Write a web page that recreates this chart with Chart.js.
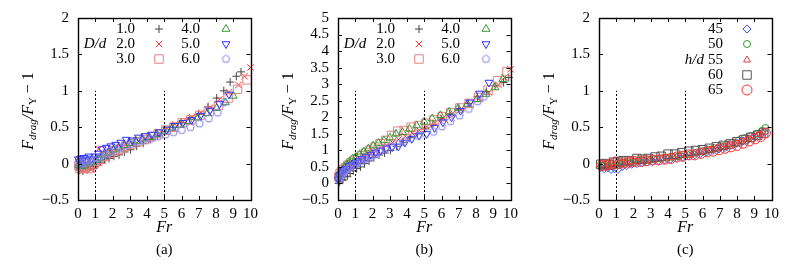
<!DOCTYPE html>
<html><head><meta charset="utf-8">
<script src="https://cdn.jsdelivr.net/npm/chart.js@4.4.0/dist/chart.umd.min.js"></script>
<style>
html,body{margin:0;padding:0;background:#fff;}
#wrap{position:relative;width:789px;height:265px;overflow:hidden;background:#fff;}
canvas{position:absolute;top:0;}
</style></head><body>
<div id="wrap">
<canvas id="ca" width="263" height="265" style="left:0px"></canvas>
<canvas id="cb" width="263" height="265" style="left:260px"></canvas>
<canvas id="cc" width="263" height="265" style="left:521px"></canvas>
</div>
<script>
// ---------- data ----------
const xTicks = [0,1,2,3,4,5,6,7,8,9,10];
const labelsA = ['1.0','2.0','3.0','4.0','5.0','6.0'];
const labelsC = ['45','50','55','60','65'];

// panel (a)
const aX1 = [0.04,0.1,0.18,0.28,0.4,0.54,0.7,0.88,1.08,1.3,1.54,1.8,2.08,2.38,2.7,3.04,3.4,3.78,4.18,4.6,5.04,5.5,5.98,6.48,7.0,7.54,8.04,8.45,8.82,9.18,9.45];
const aY1 = [-0.06,-0.09,-0.05,-0.1,-0.06,-0.08,-0.04,-0.07,-0.02,0.02,0.05,0.07,0.1,0.12,0.16,0.19,0.24,0.28,0.33,0.38,0.44,0.5,0.56,0.61,0.68,0.78,0.9,1.0,1.12,1.2,1.26];
const aX2 = [0.06,0.13,0.22,0.33,0.46,0.62,0.8,1.0,1.2,1.42,1.66,1.92,2.2,2.5,2.82,3.16,3.52,3.9,4.3,4.72,5.16,5.62,6.1,6.6,7.12,7.66,8.2,8.75,9.3,9.65,10.0];
const aY2 = [-0.05,-0.08,-0.04,-0.09,-0.07,-0.05,-0.08,-0.01,0.2,0.12,0.15,0.16,0.2,0.22,0.24,0.27,0.31,0.34,0.36,0.42,0.48,0.54,0.58,0.64,0.7,0.77,0.88,0.98,1.08,1.2,1.32];
const aX3 = [0.05,0.12,0.2,0.3,0.43,0.58,0.75,0.94,1.14,1.36,1.6,1.86,2.14,2.44,2.76,3.1,3.46,3.84,4.24,4.66,5.1,5.56,6.04,6.54,7.06,7.6,8.15,8.7,9.25,9.8];
const aY3 = [-0.03,-0.07,-0.02,-0.06,-0.04,-0.07,-0.03,0.0,0.03,0.06,0.1,0.14,0.18,0.2,0.24,0.27,0.3,0.33,0.37,0.41,0.46,0.5,0.56,0.6,0.66,0.72,0.8,0.9,1.02,1.15];
const aX4 = [0.03,0.09,0.16,0.25,0.36,0.5,0.66,0.84,1.04,1.26,1.5,1.76,2.04,2.34,2.66,3.0,3.36,3.74,4.14,4.56,5.0,5.46,5.94,6.44,6.96,7.5,8.04,8.55,9.0];
const aY4 = [-0.02,0.0,-0.04,0.01,-0.03,0.02,0.0,0.03,0.05,0.08,0.12,0.15,0.19,0.22,0.25,0.28,0.31,0.34,0.36,0.4,0.44,0.49,0.53,0.58,0.63,0.69,0.76,0.84,0.93];
const aX5 = [0.02,0.07,0.14,0.23,0.34,0.47,0.62,0.79,0.98,1.18,1.4,1.64,1.9,2.18,2.48,2.8,3.14,3.5,3.88,4.28,4.7,5.14,5.6,6.08,6.58,7.1,7.64,8.2,8.75];
const aY5 = [0.06,0.03,0.07,0.04,0.08,0.05,0.1,0.07,0.1,0.14,0.2,0.22,0.24,0.26,0.29,0.33,0.32,0.36,0.38,0.4,0.43,0.47,0.52,0.56,0.6,0.66,0.73,0.82,0.95];
const aX6 = [0.04,0.11,0.19,0.29,0.41,0.56,0.73,0.92,1.12,1.34,1.58,1.84,2.12,2.42,2.74,3.08,3.44,3.82,4.22,4.64,5.08,5.54,6.02,6.52,7.04,7.58,8.1,8.45];
const aY6 = [0.02,-0.02,0.03,0.0,0.04,0.01,0.05,0.04,0.07,0.1,0.13,0.16,0.19,0.22,0.25,0.27,0.3,0.32,0.34,0.37,0.4,0.43,0.46,0.5,0.55,0.62,0.7,0.84];

// panel (b)
const bX1 = [0.04,0.1,0.18,0.28,0.4,0.54,0.7,0.88,1.08,1.3,1.54,1.8,2.08,2.38,2.7,3.04,3.4,3.78,4.18,4.6,5.04,5.5,5.98,6.48,7.0,7.54,8.08,8.6,9.1,9.6,9.9];
const bY1 = [0.0,0.05,0.12,0.1,0.2,0.22,0.3,0.38,0.45,0.5,0.6,0.68,0.78,0.86,0.92,1.0,1.12,1.25,1.38,1.5,1.65,1.78,1.95,2.1,2.25,2.42,2.62,2.78,2.95,3.05,3.2];
const bX2 = [0.06,0.13,0.22,0.33,0.46,0.62,0.8,1.0,1.2,1.42,1.66,1.92,2.2,2.5,2.82,3.16,3.52,3.9,4.3,4.72,5.16,5.62,6.1,6.6,7.12,7.66,8.2,8.75,9.3,9.65,10.0];
const bY2 = [0.15,0.25,0.32,0.38,0.45,0.52,0.6,0.66,0.72,0.78,0.85,0.92,1.0,1.08,1.16,1.24,1.33,1.42,1.52,1.6,1.72,1.84,1.98,2.1,2.24,2.38,2.56,2.75,2.98,3.2,3.45];
const bX3 = [0.05,0.12,0.2,0.3,0.43,0.58,0.75,0.94,1.14,1.36,1.6,1.86,2.14,2.44,2.76,3.1,3.46,3.84,4.24,4.66,5.1,5.56,6.04,6.54,7.06,7.6,8.15,8.7,9.25,9.8];
const bY3 = [0.2,0.3,0.35,0.42,0.48,0.55,0.62,0.7,0.76,0.84,0.92,1.0,1.1,1.2,1.3,1.45,1.58,1.6,1.7,1.75,1.82,1.92,2.02,2.14,2.28,2.42,2.6,2.82,3.1,3.38];
const bX4 = [0.03,0.09,0.16,0.25,0.36,0.5,0.66,0.84,1.04,1.26,1.5,1.76,2.04,2.34,2.66,3.0,3.36,3.74,4.14,4.56,5.0,5.46,5.94,6.44,6.96,7.5,8.04,8.58,9.1,9.55];
const bY4 = [0.18,0.28,0.36,0.42,0.5,0.58,0.66,0.74,0.8,0.88,0.96,1.05,1.14,1.22,1.3,1.38,1.5,1.55,1.65,1.75,1.86,1.96,2.06,2.16,2.28,2.4,2.54,2.7,2.9,3.15];
const bX5 = [0.02,0.07,0.14,0.23,0.34,0.47,0.62,0.79,0.98,1.18,1.4,1.64,1.9,2.18,2.48,2.8,3.14,3.5,3.88,4.28,4.7,5.14,5.6,6.08,6.58,7.1,7.64,8.2,8.75];
const bY5 = [0.12,0.22,0.28,0.34,0.4,0.45,0.52,0.57,0.62,0.68,0.74,0.8,0.87,0.94,1.0,1.06,1.1,1.12,1.24,1.35,1.45,1.5,1.68,1.85,2.0,2.2,2.45,2.72,3.05];
const bX6 = [0.04,0.11,0.19,0.29,0.41,0.56,0.73,0.92,1.12,1.34,1.58,1.84,2.12,2.42,2.74,3.08,3.44,3.82,4.22,4.64,5.08,5.54,6.02,6.52,7.04,7.58,8.1,8.45];
const bY6 = [0.1,0.2,0.26,0.32,0.38,0.44,0.5,0.56,0.62,0.68,0.74,0.8,0.88,0.96,1.04,1.12,1.2,1.28,1.36,1.44,1.5,1.56,1.72,1.88,2.05,2.25,2.48,2.62];

// panel (c)
const cX1 = [0.1,0.3,0.5,0.7,0.9,1.1,1.35,1.6,1.9,2.2,2.5,2.8,3.1,3.45,3.8,4.15,4.5,4.85,5.2,5.55,5.9,6.25,6.6,6.95,7.3,7.65,8.0,8.35,8.7,9.05,9.35,9.6];
const cY1 = [-0.05,-0.07,-0.06,-0.08,-0.07,-0.08,-0.04,-0.03,-0.01,0.0,0.01,0.02,0.03,0.04,0.05,0.06,0.08,0.09,0.11,0.12,0.14,0.16,0.18,0.2,0.22,0.25,0.28,0.31,0.34,0.37,0.4,0.43];
const cX2 = [0.15,0.35,0.55,0.75,0.95,1.2,1.45,1.7,2.0,2.3,2.6,2.9,3.2,3.55,3.9,4.25,4.6,4.95,5.3,5.65,6.0,6.35,6.7,7.05,7.4,7.75,8.1,8.45,8.8,9.15,9.45,9.65];
const cY2 = [-0.03,-0.02,-0.04,-0.01,-0.02,0.0,0.01,0.02,0.02,0.04,0.04,0.05,0.06,0.07,0.08,0.09,0.1,0.12,0.13,0.15,0.17,0.19,0.21,0.24,0.26,0.29,0.32,0.35,0.38,0.41,0.45,0.49];
const cX3 = [0.2,0.4,0.6,0.8,1.0,1.25,1.5,1.8,2.1,2.4,2.7,3.0,3.3,3.65,4.0,4.35,4.7,5.05,5.4,5.75,6.1,6.45,6.8,7.15,7.5,7.85,8.2,8.55,8.9,9.2,9.5];
const cY3 = [-0.02,-0.04,-0.01,-0.03,0.0,-0.01,0.01,0.02,0.03,0.03,0.04,0.05,0.06,0.07,0.08,0.09,0.11,0.12,0.13,0.15,0.17,0.19,0.21,0.23,0.26,0.28,0.31,0.34,0.37,0.4,0.43];
const cX4 = [0.1,0.35,0.6,0.85,1.1,1.4,1.75,2.2,2.5,2.85,3.25,3.6,4.0,4.4,4.8,5.2,5.6,6.0,6.4,6.8,7.2,7.6,8.0,8.4,8.8,9.2,9.55];
const cY4 = [-0.01,0.0,-0.02,0.02,0.03,0.04,0.04,0.07,0.06,0.07,0.09,0.1,0.13,0.13,0.15,0.17,0.18,0.19,0.21,0.23,0.25,0.27,0.3,0.33,0.36,0.39,0.42];
const cX5 = [0.15,0.4,0.65,0.9,1.15,1.45,1.75,2.05,2.4,2.75,3.1,3.45,3.8,4.15,4.5,4.85,5.2,5.55,5.9,6.25,6.6,6.95,7.3,7.65,8.0,8.35,8.7,9.05,9.35,9.65];
const cY5 = [-0.03,-0.02,-0.01,0.01,0.0,0.01,0.02,0.03,0.03,0.04,0.05,0.05,0.06,0.07,0.09,0.1,0.12,0.12,0.14,0.16,0.17,0.19,0.21,0.23,0.25,0.28,0.31,0.34,0.37,0.42];

// ---------- helpers ----------
const FONT = '"Liberation Serif", "DejaVu Serif", serif';
function zip(X, Y){ return X.map((x,i)=>({x:x, y:Y[i]})); }
function pentagon(color, r){
  const s = Math.ceil(2*r+3);
  const c = document.createElement('canvas'); c.width = s; c.height = s;
  const g = c.getContext('2d'); g.strokeStyle = color; g.lineWidth = 1;
  g.beginPath();
  for (let i=0;i<5;i++){
    const a = -Math.PI/2 + i*2*Math.PI/5;
    const px = s/2 + r*Math.cos(a), py = s/2 + r*Math.sin(a);
    if (i) g.lineTo(px,py); else g.moveTo(px,py);
  }
  g.closePath(); g.stroke();
  return c;
}
const penta = pentagon('#8080ee', 4);

const stylesA = [
  {pointStyle:'cross',    radius:4,   rotation:0,   color:'#444444'},
  {pointStyle:'crossRot', radius:4.5, rotation:0,   color:'#ff3030'},
  {pointStyle:'rect',     radius:6,   rotation:0,   color:'#e88080'},
  {pointStyle:'triangle', radius:4.5, rotation:0,   color:'#339933'},
  {pointStyle:'triangle', radius:4.5, rotation:180, color:'#3030ff'},
  {pointStyle:penta,      radius:4,   rotation:0,   color:'#8080ee'}
];
const stylesC = [
  {pointStyle:'rectRot',  radius:4,   rotation:0, color:'#3355ff'},
  {pointStyle:'circle',   radius:3.5, rotation:0, color:'#339933'},
  {pointStyle:'triangle', radius:4,   rotation:0, color:'#dd4444'},
  {pointStyle:'rect',     radius:6,   rotation:0, color:'#555555'},
  {pointStyle:'circle',   radius:5,   rotation:0, color:'#ff3030'}
];

function makeDatasets(pairs, styles, labels){
  return pairs.map((p,i)=>({
    label: labels[i],
    data: zip(p[0], p[1]),
    showLine: false,
    pointStyle: styles[i].pointStyle,
    pointRadius: styles[i].radius,
    pointRotation: styles[i].rotation,
    pointBorderColor: styles[i].color,
    borderColor: styles[i].color,
    pointBackgroundColor: 'rgba(0,0,0,0)',
    backgroundColor: 'rgba(0,0,0,0)',
    pointBorderWidth: 1,
    pointHoverRadius: styles[i].radius,
    order: -i,
    clip: 8
  }));
}

function fmt(v){
  const r = Math.round(v*100)/100;
  return r < 0 ? '\u2212' + Math.abs(r) : String(r);
}

function drawMarker(ctx, st, x, y){
  ctx.save();
  ctx.strokeStyle = st.color; ctx.fillStyle = 'rgba(0,0,0,0)'; ctx.lineWidth = 1;
  if (Chart.helpers && Chart.helpers.drawPoint){
    Chart.helpers.drawPoint(ctx, {pointStyle: st.pointStyle, radius: st.radius, rotation: st.rotation, borderWidth: 1}, x, y);
  }
  ctx.restore();
}

function drawYTitle(ctx, cx, cy){
  ctx.save();
  ctx.translate(cx, cy); ctx.rotate(-Math.PI/2);
  ctx.fillStyle = '#000'; ctx.textBaseline = 'alphabetic'; ctx.textAlign = 'left';
  const big = 16, sub = 11;
  const parts = [
    {t:'F', f:'italic '+big+'px '+FONT, dy:0},
    {t:'drag', f:'italic '+sub+'px '+FONT, dy:3},
    {t:'/', f:'italic '+big+'px '+FONT, dy:0},
    {t:'F', f:'italic '+big+'px '+FONT, dy:0},
    {t:'Y', f:sub+'px '+FONT, dy:3},
    {t:' \u2212 1', f:big+'px '+FONT, dy:0}
  ];
  let w = 0;
  parts.forEach(p=>{ ctx.font = p.f; p.w = ctx.measureText(p.t).width; w += p.w; });
  let x = -w/2;
  parts.forEach(p=>{ ctx.font = p.f; ctx.fillText(p.t, x, 5 + p.dy); x += p.w; });
  ctx.restore();
}

function makeChart(id, datasets, yMin, yMax, yStep, dashTop, legend, caption){
  const deco = {
    id: 'deco',
    afterDraw(chart){
      const ctx = chart.ctx, a = chart.chartArea, xs = chart.scales.x, ys = chart.scales.y;
      ctx.save();
      ctx.strokeStyle = '#000'; ctx.lineWidth = 1;
      // dashed markers at Fr = 1 and 5
      ctx.setLineDash([2,2]);
      [1,5].forEach(v=>{
        const px = Math.round(xs.getPixelForValue(v)) + 0.5;
        ctx.beginPath(); ctx.moveTo(px, a.bottom); ctx.lineTo(px, ys.getPixelForValue(dashTop)); ctx.stroke();
      });
      ctx.setLineDash([]);
      // inward ticks
      ctx.beginPath();
      xs.ticks.forEach(t=>{
        const px = Math.round(xs.getPixelForValue(t.value)) + 0.5;
        ctx.moveTo(px, a.bottom); ctx.lineTo(px, a.bottom-4);
        ctx.moveTo(px, a.top); ctx.lineTo(px, a.top+4);
      });
      ys.ticks.forEach(t=>{
        const py = Math.round(ys.getPixelForValue(t.value)) + 0.5;
        ctx.moveTo(a.left, py); ctx.lineTo(a.left+4, py);
        ctx.moveTo(a.right, py); ctx.lineTo(a.right-4, py);
      });
      ctx.stroke();
      // frame
      ctx.lineWidth = 1.4;
      ctx.strokeRect(Math.round(a.left)+0.5, Math.round(a.top)+0.5, Math.round(a.right-a.left), Math.round(a.bottom-a.top));
      // legend
      legend(ctx, a);
      // titles
      ctx.fillStyle = '#000'; ctx.textAlign = 'center'; ctx.textBaseline = 'middle';
      const cx = (a.left + a.right)/2;
      ctx.font = 'italic 16px ' + FONT;
      ctx.fillText('Fr', cx, 228);
      ctx.font = '15px ' + FONT;
      ctx.fillText(caption, cx, 250);
      drawYTitle(ctx, a.left - 50, (a.top + a.bottom)/2 + 2);
      ctx.restore();
    }
  };
  return new Chart(document.getElementById(id), {
    type: 'scatter',
    data: {datasets: datasets},
    options: {
      responsive: false, animation: false, devicePixelRatio: 1,
      layout: {padding: {top: 17, right: 5, left: 0, bottom: 0}},
      plugins: {legend: {display: false}, tooltip: {enabled: false}},
      events: [],
      scales: {
        x: {type:'linear', min:0, max:10,
            afterBuildTicks(s){ s.ticks = xTicks.map(v=>({value:v})); },
            ticks: {autoSkip:false, maxRotation:0, padding:5, color:'#000', font:{family:FONT, size:15}, callback: v=>fmt(v)},
            grid: {display:false, drawTicks:false}, border: {display:false},
            afterFit(s){ s.height = 65; }},
        y: {type:'linear', min:yMin, max:yMax,
            ticks: {stepSize:yStep, autoSkip:false, padding:9, color:'#000', font:{family:FONT, size:15}, callback: v=>fmt(v)},
            grid: {display:false, drawTicks:false}, border: {display:false},
            afterFit(s){ s.width = 78; }}
      }
    },
    plugins: [deco]
  });
}

function legendA(ctx, a){
  const L = a.left;
  const rows = [29, 44, 59];
  ctx.fillStyle = '#000'; ctx.textBaseline = 'middle';
  ctx.font = '15px ' + FONT; ctx.textAlign = 'right';
  for (let i=0;i<3;i++){
    ctx.fillText(labelsA[i], L+57, rows[i]);
    drawMarker(ctx, stylesA[i], L+81, rows[i]);
    ctx.fillText(labelsA[i+3], L+122, rows[i]);
    drawMarker(ctx, stylesA[i+3], L+148, rows[i]);
  }
  ctx.font = 'italic 15px ' + FONT; ctx.textAlign = 'center';
  ctx.fillText('D/d', L+17, 44);
}
function legendC(ctx, a){
  const L = a.left;
  const rows = [29, 44, 60, 75, 90];
  ctx.fillStyle = '#000'; ctx.textBaseline = 'middle';
  ctx.font = '15px ' + FONT; ctx.textAlign = 'right';
  for (let i=0;i<5;i++){
    ctx.fillText(labelsC[i], L+124, rows[i]);
    drawMarker(ctx, stylesC[i], L+148, rows[i]);
  }
  ctx.font = 'italic 15px ' + FONT; ctx.textAlign = 'right';
  ctx.fillText('h/d', L+105, 60);
}

makeChart('ca', makeDatasets([[aX1,aY1],[aX2,aY2],[aX3,aY3],[aX4,aY4],[aX5,aY5],[aX6,aY6]], stylesA, labelsA), -0.5, 2, 0.5, 1, legendA, '(a)');
makeChart('cb', makeDatasets([[bX1,bY1],[bX2,bY2],[bX3,bY3],[bX4,bY4],[bX5,bY5],[bX6,bY6]], stylesA, labelsA), -0.5, 5, 0.5, 2.8, legendA, '(b)');
makeChart('cc', makeDatasets([[cX1,cY1],[cX2,cY2],[cX3,cY3],[cX4,cY4],[cX5,cY5]], stylesC, labelsC), -0.5, 2, 0.5, 1, legendC, '(c)');
</script>
</body></html>
